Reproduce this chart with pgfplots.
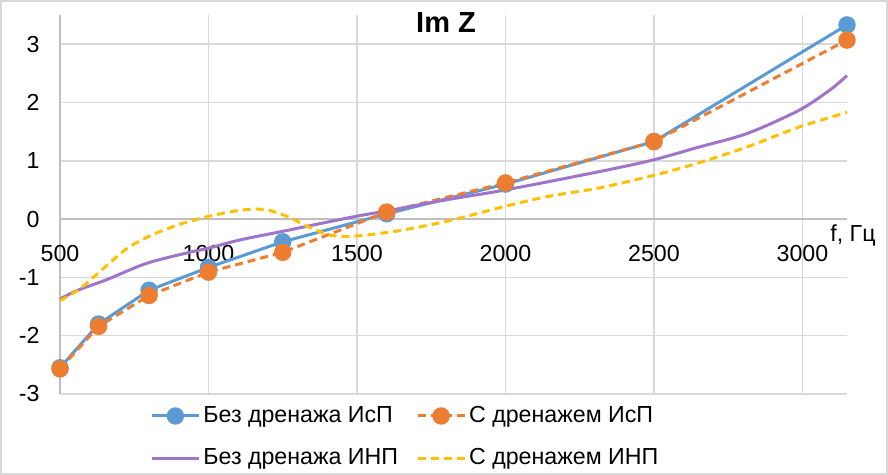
\documentclass[border=0pt]{standalone}
\usepackage{fontspec}
\setmainfont{Liberation Sans}
\usepackage{pgfplots}
\pgfplotsset{compat=1.18}
\definecolor{cblue}{HTML}{5B9BD5}
\definecolor{corange}{HTML}{ED7D31}
\definecolor{cpurple}{HTML}{A074C8}
\definecolor{cyellow}{HTML}{FFC000}
\definecolor{gridgray}{HTML}{D9D9D9}
\definecolor{axgray}{HTML}{BFBFBF}
\begin{document}
\begin{tikzpicture}
\begin{axis}[
  scale only axis,
  width=393.5pt, height=189.5pt,
  xmin=500, xmax=3150, ymin=-3, ymax=3.5,
  axis x line=middle, axis y line=left,
  axis line style={draw=axgray, line width=0.9pt, -},
  hide obscured x ticks=false, hide obscured y ticks=false,
  xtick={500,1000,1500,2000,2500,3000},
  xticklabels={500,1000,1500,2000,2500,3000},
  ytick={-3,-2,-1,0,1,2,3},
  yticklabels={-3,-2,-1,0,1,2,3},
  major tick length=0pt,
  grid=major,
  grid style={draw=gridgray, line width=0.8pt},
  tick label style={font=\fontsize{11.6}{13}\selectfont},
  xticklabel style={anchor=north, yshift=-9.5pt},
  yticklabel style={anchor=east, xshift=-6.7pt},
  xlabel={f, Гц},
  xlabel style={at={(axis cs:3150,0)}, anchor=center, xshift=3pt, yshift=-8pt, font=\fontsize{11.6}{13}\selectfont},
  clip=false,
  legend columns=2,
  legend cell align=left,
  legend style={draw=none, fill=none, at={(0,0)}, anchor=north west, xshift=42pt, yshift=-2pt,
    font=\fontsize{11.6}{13}\selectfont,
    nodes={inner xsep=1.5pt},
    row sep=7.5pt,
    /tikz/every even column/.append style={column sep=7.5pt}},
  legend image code/.code={\draw[mark repeat=2,mark phase=2,#1] plot coordinates {(0pt,0pt) (11.75pt,0pt) (23.5pt,0pt)};},
]
\addplot[cblue, line width=1.5pt, mark=*, mark size=3.6pt, mark options={fill=cblue, draw=cblue}] coordinates {
(500,-2.55) (630,-1.80) (800,-1.22) (1000,-0.83) (1250,-0.39) (1600,0.09) (2000,0.60) (2500,1.33) (3150,3.33)};
\addlegendentry{Без дренажа ИсП}
\addplot[corange, line width=1.5pt, dash pattern=on 4pt off 2.5pt, mark=*, mark size=3.6pt, mark options={solid, fill=corange, draw=corange}] coordinates {
(500,-2.57) (630,-1.84) (800,-1.31) (1000,-0.91) (1250,-0.57) (1600,0.12) (2000,0.62) (2500,1.33) (3150,3.07)};
\addlegendentry{С дренажем ИсП}
\addplot[cpurple, line width=1.5pt, smooth] coordinates {
(500,-1.37) (560,-1.22) (657,-1.04) (791,-0.76) (936,-0.57) (1000,-0.50) (1104,-0.36) (1250,-0.21) (1383,-0.07) (1500,0.05) (1600,0.14) (1800,0.33) (2000,0.50) (2312,0.81) (2494,1.01) (2648,1.23) (2815,1.47) (2990,1.87) (3094,2.22) (3150,2.46)};
\addlegendentry{Без дренажа ИНП}
\addplot[cyellow, line width=1.5pt, dash pattern=on 4pt off 2.5pt, smooth] coordinates {
(500,-1.40) (560,-1.22) (601,-1.05) (657,-0.80) (724,-0.51) (802,-0.29) (903,-0.09) (1004,0.05) (1104,0.15) (1160,0.17) (1205,0.15) (1272,0.03) (1339,-0.14) (1416,-0.28) (1497,-0.29) (1641,-0.20) (1809,-0.03) (2000,0.22) (2145,0.39) (2312,0.53) (2492,0.74) (2648,0.96) (2815,1.24) (2990,1.58) (3150,1.83)};
\addlegendentry{С дренажем ИНП}
\end{axis}
\node[font=\bfseries\fontsize{14.5}{16}\selectfont] at (193pt,185.5pt) {Im Z};
\pgfresetboundingbox
\draw[gridgray, line width=1pt] (-29.5pt,-40pt) rectangle (413.5pt,196.5pt);
\useasboundingbox (-30pt,-40.5pt) rectangle (414pt,197pt);
\end{tikzpicture}
\end{document}
